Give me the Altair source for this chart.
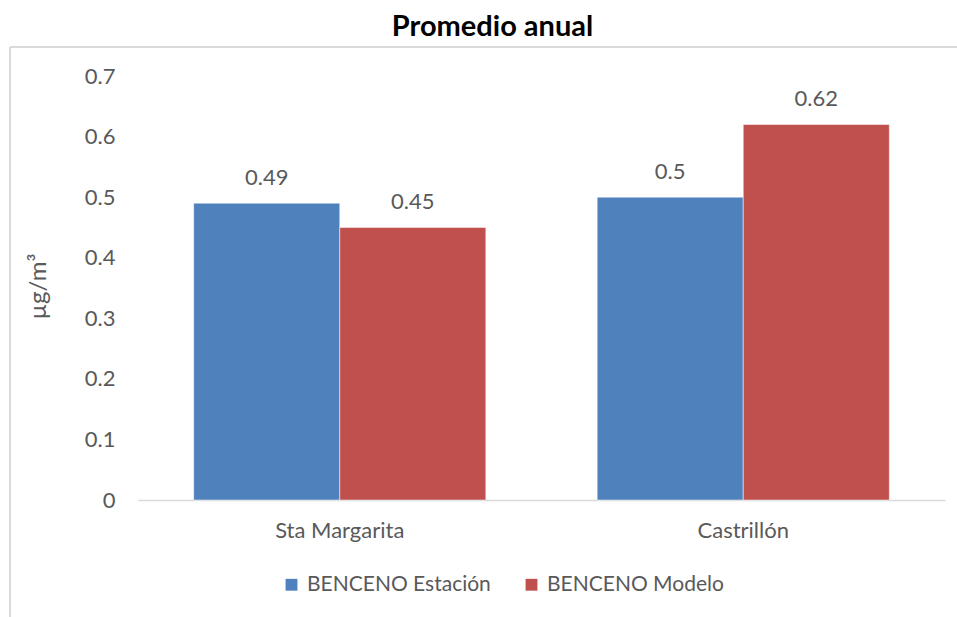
import altair as alt
import pandas as pd

# Annual mean benzene concentration per site: station measurement vs model
sites = ["Sta Margarita", "Castrillón"]
series = ["BENCENO Estación", "BENCENO Modelo"]
estacion = [0.49, 0.50]
modelo = [0.45, 0.62]

rows = []
for i, site in enumerate(sites):
    rows.append({"site": site, "serie": series[0], "valor": estacion[i]})
    rows.append({"site": site, "serie": series[1], "valor": modelo[i]})
df = pd.DataFrame(rows)

FONT = "Lato"
GREY = "#595959"
W, H = 807, 424
FS = 22

x_enc = alt.X(
    "site:N",
    sort=sites,
    scale=alt.Scale(paddingInner=0.276, paddingOuter=0.138),
    axis=alt.Axis(
        title=None,
        labelAngle=0,
        ticks=False,
        domainColor="#d9d9d9",
        domainWidth=1.5,
        labelPadding=20,
        labelFontSize=FS,
        labelColor=GREY,
        labelFont=FONT,
    ),
)
xo_enc = alt.XOffset("serie:N", sort=series, scale=alt.Scale(paddingInner=0, paddingOuter=0))
y_enc = alt.Y(
    "valor:Q",
    scale=alt.Scale(domain=[0, 0.7], nice=False),
    axis=alt.Axis(
        values=[0, 0.1, 0.2, 0.3, 0.4, 0.5, 0.6, 0.7],
        format="~g",
        grid=False,
        domain=False,
        ticks=False,
        labelPadding=23,
        labelFontSize=FS,
        labelColor=GREY,
        labelFont=FONT,
        title="µg/m³",
        titleFont=FONT,
        titleFontSize=24,
        titleFontWeight="normal",
        titleColor=GREY,
        titleX=-100,
        titleY=H / 2 - 2,
        titleAngle=-90,
        titleAlign="center",
        titleBaseline="middle",
    ),
)
color_enc = alt.Color(
    "serie:N",
    sort=series,
    scale=alt.Scale(domain=series, range=["#4F81BD", "#C0504D"]),
    legend=alt.Legend(
        title=None,
        orient="none",
        direction="horizontal",
        legendX=143,
        legendY=498,
        symbolType="square",
        symbolSize=140,
        symbolStrokeWidth=0,
        labelFont=FONT,
        labelFontSize=21,
        labelColor=GREY,
        labelOffset=5,
        labelLimit=0,
        columnPadding=30,
    ),
)

base = alt.Chart(df)

bars = base.mark_bar(stroke="white", strokeWidth=0.5).encode(
    x=x_enc, xOffset=xo_enc, y=y_enc, color=color_enc
)

labels = base.mark_text(
    baseline="bottom", dy=-13, fontSize=FS, font=FONT, color=GREY
).encode(
    x=alt.X("site:N", sort=sites),
    xOffset=alt.XOffset("serie:N", sort=series),
    y="valor:Q",
    text=alt.Text("valor:Q", format="~g"),
)

# Chart-area frame (left and top edges)
frame_left = alt.Chart(df).mark_rule(color="#d9d9d9", strokeWidth=2).encode(
    x=alt.value(-128), y=alt.value(-29), y2=alt.value(H + 117)
)
frame_top = alt.Chart(df).mark_rule(color="#d9d9d9", strokeWidth=2).encode(
    x=alt.value(-128), x2=alt.value(W + 12), y=alt.value(-29)
)

chart = (
    alt.layer(frame_left, frame_top, bars, labels)
    .properties(
        width=W,
        height=H,
        background="white",
        autosize=alt.AutoSizeParams(type="none"),
        padding={"left": 138, "top": 76, "right": 12, "bottom": 117},
        title=alt.TitleParams(
            "Promedio anual",
            font=FONT,
            fontSize=29,
            fontWeight="bold",
            color="black",
            anchor="middle",
            frame="group",
            dx=-49,
            dy=33,
            offset=8,
            baseline="bottom",
        ),
    )
    .configure_view(strokeWidth=0, stroke=None)
)

chart.save("out.html", embed_options={"renderer": "svg", "actions": False})
